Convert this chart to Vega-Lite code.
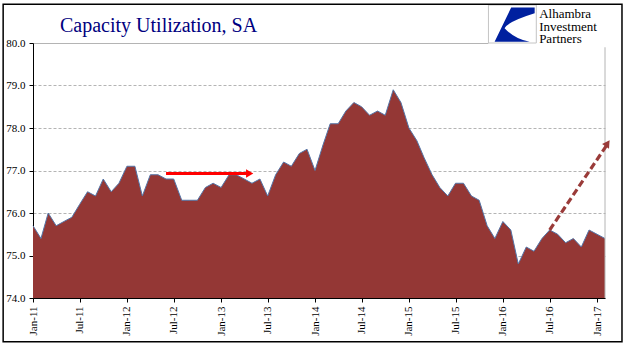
{
  "$schema": "https://vega.github.io/schema/vega-lite/v6.json",
  "width": 572,
  "height": 255,
  "autosize": {"type": "none"},
  "padding": {"left": 33, "top": 43, "right": 36, "bottom": 60},
  "background": "white",
  "config": {"view": {"stroke": null}, "font": "Liberation Serif"},
  "title": {
    "text": "Capacity Utilization, SA",
    "anchor": "start",
    "frame": "group",
    "dx": 27,
    "dy": 60,
    "offset": 12,
    "font": "Liberation Serif",
    "fontSize": 20,
    "fontWeight": "normal",
    "color": "#000080",
    "baseline": "alphabetic"
  },
  "datasets": {
    "cu": [
      {"date": "2011-01-01", "v": 75.7}, {"date": "2011-02-01", "v": 75.4}, {"date": "2011-03-01", "v": 76.0},
      {"date": "2011-04-01", "v": 75.7}, {"date": "2011-05-01", "v": 75.8}, {"date": "2011-06-01", "v": 75.9},
      {"date": "2011-07-01", "v": 76.2}, {"date": "2011-08-01", "v": 76.5}, {"date": "2011-09-01", "v": 76.4},
      {"date": "2011-10-01", "v": 76.8}, {"date": "2011-11-01", "v": 76.5}, {"date": "2011-12-01", "v": 76.7},
      {"date": "2012-01-01", "v": 77.1}, {"date": "2012-02-01", "v": 77.1}, {"date": "2012-03-01", "v": 76.4},
      {"date": "2012-04-01", "v": 76.9}, {"date": "2012-05-01", "v": 76.9}, {"date": "2012-06-01", "v": 76.8},
      {"date": "2012-07-01", "v": 76.8}, {"date": "2012-08-01", "v": 76.3}, {"date": "2012-09-01", "v": 76.3},
      {"date": "2012-10-01", "v": 76.3}, {"date": "2012-11-01", "v": 76.6}, {"date": "2012-12-01", "v": 76.7},
      {"date": "2013-01-01", "v": 76.6}, {"date": "2013-02-01", "v": 76.9}, {"date": "2013-03-01", "v": 76.9},
      {"date": "2013-04-01", "v": 76.8}, {"date": "2013-05-01", "v": 76.7}, {"date": "2013-06-01", "v": 76.8},
      {"date": "2013-07-01", "v": 76.4}, {"date": "2013-08-01", "v": 76.9}, {"date": "2013-09-01", "v": 77.2},
      {"date": "2013-10-01", "v": 77.1}, {"date": "2013-11-01", "v": 77.4}, {"date": "2013-12-01", "v": 77.5},
      {"date": "2014-01-01", "v": 77.0}, {"date": "2014-02-01", "v": 77.6}, {"date": "2014-03-01", "v": 78.1},
      {"date": "2014-04-01", "v": 78.1}, {"date": "2014-05-01", "v": 78.4}, {"date": "2014-06-01", "v": 78.6},
      {"date": "2014-07-01", "v": 78.5}, {"date": "2014-08-01", "v": 78.3}, {"date": "2014-09-01", "v": 78.4},
      {"date": "2014-10-01", "v": 78.3}, {"date": "2014-11-01", "v": 78.9}, {"date": "2014-12-01", "v": 78.6},
      {"date": "2015-01-01", "v": 78.0}, {"date": "2015-02-01", "v": 77.7}, {"date": "2015-03-01", "v": 77.3},
      {"date": "2015-04-01", "v": 76.9}, {"date": "2015-05-01", "v": 76.6}, {"date": "2015-06-01", "v": 76.4},
      {"date": "2015-07-01", "v": 76.7}, {"date": "2015-08-01", "v": 76.7}, {"date": "2015-09-01", "v": 76.4},
      {"date": "2015-10-01", "v": 76.3}, {"date": "2015-11-01", "v": 75.7}, {"date": "2015-12-01", "v": 75.4},
      {"date": "2016-01-01", "v": 75.8}, {"date": "2016-02-01", "v": 75.6}, {"date": "2016-03-01", "v": 74.8},
      {"date": "2016-04-01", "v": 75.2}, {"date": "2016-05-01", "v": 75.1}, {"date": "2016-06-01", "v": 75.4},
      {"date": "2016-07-01", "v": 75.6}, {"date": "2016-08-01", "v": 75.5}, {"date": "2016-09-01", "v": 75.3},
      {"date": "2016-10-01", "v": 75.4}, {"date": "2016-11-01", "v": 75.2}, {"date": "2016-12-01", "v": 75.6},
      {"date": "2017-01-01", "v": 75.5}, {"date": "2017-02-01", "v": 75.4}
    ]
  },
  "encoding": {
    "x": {
      "field": "date",
      "type": "temporal",
      "scale": {"type": "utc", "domain": [{"year": 2011, "month": 1, "date": 1, "utc": true}, {"year": 2017, "month": 2, "date": 1, "utc": true}]},
      "axis": {
        "title": null,
        "format": "%b-%y",
        "tickCount": {"interval": "month", "step": 6},
        "labelAngle": -90,
        "labelAlign": "right",
        "labelBaseline": "middle",
        "labelFont": "Liberation Serif",
        "labelFontSize": 11,
        "labelColor": "black",
        "labelPadding": 4,
        "labelFlush": false,
        "labelOverlap": false,
        "domainColor": "black",
        "domainWidth": 1,
        "tickColor": "black",
        "tickSize": 4,
        "grid": false,
        "zindex": 1
      }
    },
    "y": {
      "field": "v",
      "type": "quantitative",
      "scale": {"domain": [74, 80], "zero": false, "nice": false},
      "axis": {
        "title": null,
        "values": [74, 75, 76, 77, 78, 79, 80],
        "format": ".1f",
        "labelFont": "Liberation Serif",
        "labelFontSize": 11,
        "labelColor": "black",
        "labelPadding": 4,
        "domainColor": "black",
        "tickColor": "black",
        "tickSize": 4,
        "grid": true,
        "gridColor": "#b4b4b4",
        "gridWidth": 1,
        "gridDash": {"condition": {"test": "datum.value == 80", "value": []}, "value": [3, 2]}
      }
    }
  },
  "layer": [
    {
      "data": {"name": "cu"},
      "mark": {"type": "area", "color": "#943735", "opacity": 1, "clip": false, "line": {"color": "#5474a6", "strokeWidth": 1}},
      "encoding": {"y2": {"datum": 74}}
    },
    {
      "data": {"values": [{"date": "2017-02-01", "v0": 74, "v1": 79.9}]},
      "mark": {"type": "rule", "color": "#b4b4b4", "strokeWidth": 1},
      "encoding": {"x": {"field": "date", "type": "temporal"}, "y": {"field": "v0", "type": "quantitative"}, "y2": {"field": "v1"}}
    },
    {
      "data": {"values": [{"date": "2012-06-01", "v": 76.93}, {"date": "2013-04-12", "v": 76.93}]},
      "mark": {"type": "line", "color": "#ff0000", "strokeWidth": 3.2, "clip": false}
    },
    {
      "data": {"values": [{"date": "2013-04-22", "v": 76.93}]},
      "mark": {"type": "point", "shape": "triangle-right", "filled": true, "color": "#ff0000", "size": 70, "opacity": 1}
    },
    {
      "data": {"values": [{"date": "2016-07-01", "v": 75.6}, {"date": "2017-02-06", "v": 77.58}]},
      "mark": {"type": "line", "color": "#9a3b39", "strokeWidth": 3.2, "strokeDash": [7, 3.5], "clip": false}
    },
    {
      "data": {"values": [{"date": "2017-02-11", "v": 77.64}]},
      "mark": {"type": "point", "shape": "triangle-up", "filled": true, "color": "#9a3b39", "size": 70, "angle": 34, "opacity": 1, "clip": false}
    },
    {
      "data": {"values": [{"d0": "2015-11-06", "d1": "2017-02-05", "t": 80.9, "b": 79.95}]},
      "mark": {"type": "rect", "fill": "white", "clip": false},
      "encoding": {"x": {"field": "d0", "type": "temporal"}, "x2": {"field": "d1"}, "y": {"field": "t", "type": "quantitative"}, "y2": {"field": "b"}}
    },
    {
      "data": {"values": [{"d0": "2015-11-06", "d1": "2016-05-10", "t": 80.894, "b": 80.0}]},
      "mark": {"type": "rect", "fill": "white", "stroke": "#c4c4c4", "strokeWidth": 1, "clip": false},
      "encoding": {"x": {"field": "d0", "type": "temporal"}, "x2": {"field": "d1"}, "y": {"field": "t", "type": "quantitative"}, "y2": {"field": "b"}}
    },
    {
      "data": {"values": [{"date": "2016-02-08", "v": 80.447}]},
      "mark": {"type": "point", "shape": "M -0.06 -0.7 L 0.93 -0.7 L 0.93 -0.45 Q -0.2 -0.1 -0.34 0.18 Q 0.1 0.65 0.72 0.75 L -0.76 0.75 Z", "filled": true, "color": "#00209f", "size": 2247, "opacity": 1, "clip": false}
    },
    {
      "data": {"values": [{"date": "2016-05-21", "v": 80.582, "t": "Alhambra"}, {"date": "2016-05-21", "v": 80.287, "t": "Investment"}, {"date": "2016-05-21", "v": 79.993, "t": "Partners"}]},
      "mark": {"type": "text", "align": "left", "baseline": "alphabetic", "font": "Liberation Serif", "fontSize": 13, "color": "black", "clip": false},
      "encoding": {"text": {"field": "t"}}
    },
    {
      "data": {"values": [{"d0": "2010-09-07", "d1": "2017-04-08", "t": 80.91, "b": 72.972}]},
      "mark": {"type": "rect", "fill": null, "stroke": "black", "strokeWidth": 1.5, "clip": false},
      "encoding": {"x": {"field": "d0", "type": "temporal"}, "x2": {"field": "d1"}, "y": {"field": "t", "type": "quantitative"}, "y2": {"field": "b"}}
    }
  ]
}
